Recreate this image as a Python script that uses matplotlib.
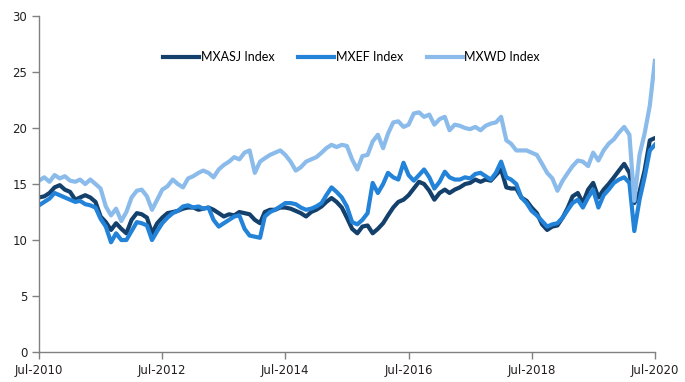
import pandas as pd
import matplotlib
matplotlib.use('Agg')
import matplotlib.pyplot as plt
import matplotlib.dates as mdates

# Valores mensuales (Jul-2010 .. Jul-2020)
fechas = pd.date_range('2010-07-01', '2020-07-01', freq='MS')

mxasj = [13.8, 13.9, 14.2, 14.7, 14.9, 14.5, 14.3, 13.6, 13.8, 14.0, 13.8, 13.4,
         12.1, 11.6, 10.9, 11.5, 11.0, 10.6, 11.8, 12.4, 12.3, 12.0, 10.6, 11.5,
         12.0, 12.4, 12.5, 12.6, 12.8, 12.9, 12.9, 12.7, 12.8, 12.9, 12.7, 12.4,
         12.1, 12.3, 12.2, 12.5, 12.4, 12.3, 11.8, 11.5, 12.5, 12.7, 12.7, 12.9,
         12.9, 12.8, 12.6, 12.4, 12.1, 12.5, 12.7, 13.0, 13.4, 13.75, 13.4, 12.9,
         12.0, 11.0, 10.6, 11.2, 11.3, 10.6, 11.0, 11.5, 12.2, 12.9, 13.4, 13.6,
         14.0, 14.6, 15.2, 15.0, 14.4, 13.6, 14.2, 14.5, 14.2, 14.5, 14.7, 15.0,
         15.1, 15.4, 15.2, 15.4, 15.3, 15.8, 16.3, 14.7, 14.6, 14.6, 13.8, 13.5,
         12.9, 12.4, 11.4, 10.9, 11.2, 11.3, 12.0, 12.9, 13.9, 14.2, 13.3, 14.5,
         15.1, 13.8, 14.5, 15.0, 15.6, 16.2, 16.8, 16.0, 13.3, 14.3, 16.2, 18.9,
         19.1]

mxef = [13.1, 13.4, 13.7, 14.2, 14.0, 13.8, 13.6, 13.4, 13.5, 13.2, 13.1, 12.9,
        11.9, 11.2, 9.8, 10.6, 10.0, 10.0, 10.8, 11.6, 11.5, 11.3, 10.0, 10.8,
        11.5, 12.0, 12.4, 12.6, 13.0, 13.1, 12.9, 13.0, 12.8, 12.9, 11.8, 11.2,
        11.5, 11.8, 12.1, 12.2, 11.0, 10.4, 10.3, 10.2, 12.1, 12.5, 12.7, 13.0,
        13.3, 13.3, 13.2, 12.9, 12.7, 12.8, 13.0, 13.3, 14.0, 14.7, 14.3, 13.8,
        13.0, 11.6, 11.4, 11.8, 12.4, 15.1, 14.2, 15.0, 16.0, 15.6, 15.4, 16.9,
        15.8, 15.3, 15.8, 16.3, 15.6, 14.6, 15.2, 16.1, 15.6, 15.4, 15.4, 15.6,
        15.5, 15.9, 16.0, 15.7, 15.4, 16.0, 17.0, 15.6, 15.4, 15.0, 13.8, 13.3,
        12.6, 12.2, 11.7, 11.2, 11.4, 11.5, 12.0, 12.7, 13.3, 13.6, 12.9, 13.8,
        14.5, 12.9, 14.0, 14.5, 15.1, 15.4, 15.6, 15.1, 10.8, 13.6, 15.6, 18.0,
        18.5]

mxwd = [15.3, 15.6, 15.2, 15.8, 15.5, 15.7, 15.3, 15.2, 15.4, 15.0, 15.4, 15.0,
        14.6, 13.0, 12.2, 12.8, 11.7, 12.5, 13.8, 14.4, 14.5, 13.9, 12.7, 13.6,
        14.5, 14.8, 15.4, 15.0, 14.7, 15.5, 15.7, 16.0, 16.2, 16.0, 15.6, 16.3,
        16.7, 17.0, 17.4, 17.2, 17.8, 18.0, 16.0, 17.0, 17.3, 17.6, 17.8, 18.0,
        17.6, 17.0, 16.2, 16.5, 17.0, 17.2, 17.4, 17.8, 18.2, 18.5, 18.3, 18.5,
        18.4, 17.2, 16.3, 17.5, 17.6, 18.8, 19.4, 18.2, 19.5, 20.5, 20.6, 20.1,
        20.3, 21.3, 21.4, 21.0, 21.2, 20.3, 20.8, 21.0, 19.8, 20.3, 20.2, 20.0,
        19.9, 20.1, 19.8, 20.2, 20.4, 20.5, 21.0, 18.9, 18.6, 18.0, 18.0, 18.0,
        17.8, 17.6, 16.8, 16.0, 15.5, 14.4, 15.3, 16.0, 16.6, 17.1, 17.0, 16.6,
        17.8, 17.1, 18.0, 18.6, 19.0, 19.6, 20.1, 19.4, 13.5, 17.6, 19.5, 22.0,
        26.0]

series = [('MXASJ Index', mxasj, '#14406c'),
          ('MXEF Index', mxef, '#2283d9'),
          ('MXWD Index', mxwd, '#8abbea')]

fig = plt.figure(figsize=(6.85, 3.82), dpi=100)
ax = fig.add_axes([0.057, 0.0785, 0.899, 0.8795])

for nombre, valores, color in series:
    ax.plot(fechas, valores, color=color, lw=3, label=nombre)

ax.set_xlim(pd.Timestamp('2010-07-01'), pd.Timestamp('2020-07-01'))
ax.set_ylim(0, 30)
ax.set_yticks(range(0, 31, 5))
ax.set_xticks(pd.date_range('2010-07-01', '2020-07-01', freq='24MS'))
ax.xaxis.set_major_formatter(mdates.DateFormatter('%b-%Y'))

for lado in ['top', 'right']:
    ax.spines[lado].set_visible(False)
for lado in ['left', 'bottom']:
    ax.spines[lado].set_color('#808080')
    ax.spines[lado].set_linewidth(1.0)

ax.tick_params(axis='both', colors='#808080', length=5, width=1.0,
               labelcolor='#231f20', labelsize=8.5)
for etiqueta in ax.get_xticklabels() + ax.get_yticklabels():
    etiqueta.set_family(['Liberation Sans Narrow', 'DejaVu Sans'])

fig.legend(loc='center', bbox_to_anchor=(0.513, 0.851), ncol=3, frameon=False,
           handlelength=2.9, handletextpad=0.1, columnspacing=1.9,
           prop={'family': 'Lato', 'size': 9})

plt.savefig('out.png', dpi=100)
